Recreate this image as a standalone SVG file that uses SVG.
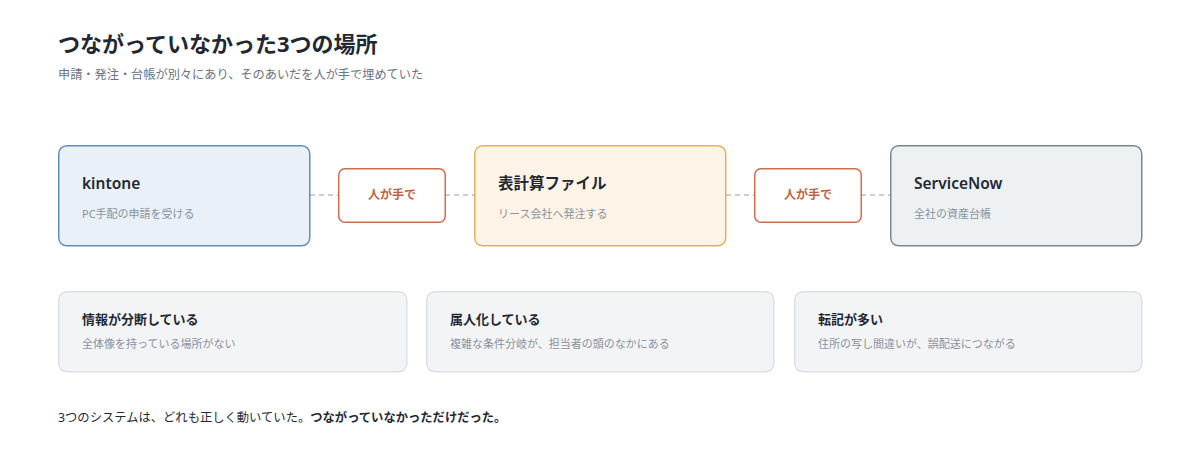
<svg xmlns="http://www.w3.org/2000/svg" width="1200" height="465" viewBox="0 0 1200 465">
<style>
text{font-family:"Noto Sans","Noto Sans CJK JP",sans-serif}
.h1{font-size:22px;font-weight:700;fill:#1f2933}
.sub{font-size:12.2px;fill:#6b7280}
.nt{font-size:15.5px;font-weight:600;fill:#1f2933}
.ns{font-size:11px;fill:#8a929c}
.lb{fill:#fff;stroke:#c96f4c;stroke-width:1.5}
.lt{font-size:12px;font-weight:700;fill:#c0613e;text-anchor:middle}
.card{fill:#f3f4f6;stroke:#dcdfe4;stroke-width:1.5}
.ct{font-size:13px;font-weight:700;fill:#1f2933}
.cs{font-size:11px;fill:#8a929c}
.ft{font-size:12.3px;fill:#1f2933}
.dash{stroke:#b8bec6;stroke-width:1.5;stroke-dasharray:5 4;fill:none}
</style>
<rect width="1200" height="465" fill="#fff"/>
<text class="h1" x="58" y="52">つながっていなかった3つの場所</text>
<text class="sub" x="58" y="79">申請・発注・台帳が別々にあり、そのあいだを人が手で埋めていた</text>
<g id="connectors">
<line class="dash" x1="310" y1="195" x2="338" y2="195"/>
<line class="dash" x1="445" y1="195" x2="474" y2="195"/>
<line class="dash" x1="726" y1="195" x2="754" y2="195"/>
<line class="dash" x1="861" y1="195" x2="890" y2="195"/>
<g id="label1"><rect class="lb" x="338.75" y="168.75" width="106.5" height="53.5" rx="6"/><text class="lt" x="392" y="199">人が手で</text></g>
<g id="label2"><rect class="lb" x="754.75" y="168.75" width="106.5" height="53.5" rx="6"/><text class="lt" x="808" y="199">人が手で</text></g>
</g>
<g id="kintone">
<rect x="58.75" y="145.75" width="251" height="100" rx="8" fill="#e9f0f7" stroke="#5e90ba" stroke-width="1.5"/>
<text class="nt" x="82" y="189">kintone</text>
<text class="ns" x="82" y="218">PC手配の申請を受ける</text>
</g>
<g id="spreadsheet">
<rect x="474.75" y="145.75" width="251" height="100" rx="8" fill="#fdf4e7" stroke="#e1b257" stroke-width="1.5"/>
<text class="nt" x="498" y="189">表計算ファイル</text>
<text class="ns" x="498" y="218">リース会社へ発注する</text>
</g>
<g id="servicenow">
<rect x="890.75" y="145.75" width="251" height="100" rx="8" fill="#eef1f4" stroke="#7b8693" stroke-width="1.5"/>
<text class="nt" x="914" y="189">ServiceNow</text>
<text class="ns" x="914" y="218">全社の資産台帳</text>
</g>
<g id="card1">
<rect class="card" x="58.75" y="291.75" width="348" height="80" rx="8"/>
<text class="ct" x="82" y="324">情報が分断している</text>
<text class="cs" x="82" y="348">全体像を持っている場所がない</text>
</g>
<g id="card2">
<rect class="card" x="426.75" y="291.75" width="347" height="80" rx="8"/>
<text class="ct" x="450" y="324">属人化している</text>
<text class="cs" x="450" y="348">複雑な条件分岐が、担当者の頭のなかにある</text>
</g>
<g id="card3">
<rect class="card" x="794.75" y="291.75" width="347" height="80" rx="8"/>
<text class="ct" x="818" y="324">転記が多い</text>
<text class="cs" x="818" y="348">住所の写し間違いが、誤配送につながる</text>
</g>
<text class="ft" x="58" y="422">3つのシステムは、どれも正しく動いていた。<tspan font-weight="700">つながっていなかっただけだった。</tspan></text>
</svg>
